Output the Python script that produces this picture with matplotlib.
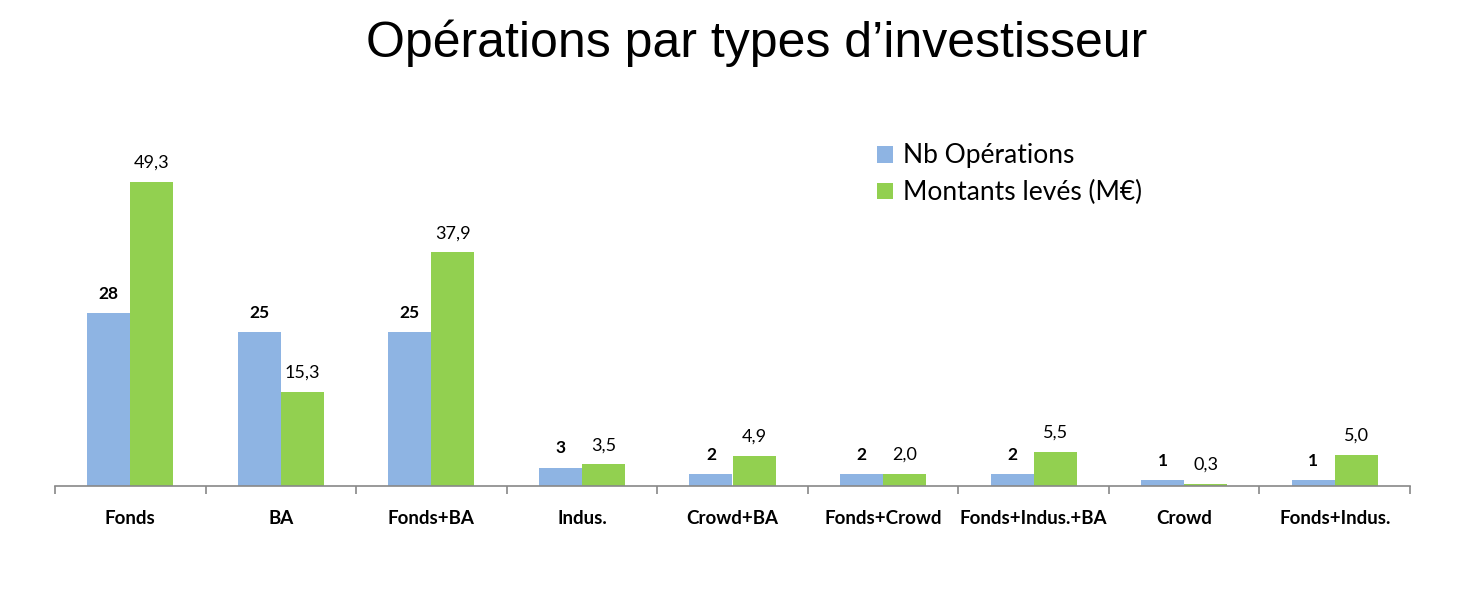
import matplotlib.pyplot as plt
import numpy as np

categories = ['Fonds', 'BA', 'Fonds+BA', 'Indus.', 'Crowd+BA', 'Fonds+Crowd',
              'Fonds+Indus.+BA', 'Crowd', 'Fonds+Indus.']
nb_operations = [28, 25, 25, 3, 2, 2, 2, 1, 1]
montants = [49.3, 15.3, 37.9, 3.5, 4.9, 2.0, 5.5, 0.3, 5.0]

bleu = '#8EB4E3'
vert = '#92D050'
police = 'Lato'

fig = plt.figure(figsize=(14.58, 5.99), dpi=100)
ax = fig.add_axes([55 / 1458, (599 - 486) / 599, 1355 / 1458, 370 / 599])

x = np.arange(len(categories))
w = 0.286
b1 = ax.bar(x - w / 2, nb_operations, w, color=bleu, label='Nb Opérations')
b2 = ax.bar(x + w / 2, montants, w, color=vert, label='Montants levés (M€)')

# étiquettes de valeurs au-dessus des barres
for rect, v in zip(b1, nb_operations):
    ax.annotate(str(v), (rect.get_x() + rect.get_width() / 2, v), xytext=(0, 8),
                textcoords='offset points', ha='center', va='bottom',
                fontsize=12.5, fontweight='bold', family=police)
for rect, v in zip(b2, montants):
    ax.annotate(f'{v:.1f}'.replace('.', ','), (rect.get_x() + rect.get_width() / 2, v),
                xytext=(0, 8), textcoords='offset points', ha='center', va='bottom',
                fontsize=13, family=police)

ax.set_xlim(-0.5, len(categories) - 0.5)
ax.set_ylim(0, 60)
ax.set_yticks([])
for s in ['top', 'right', 'left']:
    ax.spines[s].set_visible(False)
ax.spines['bottom'].set_color('#888888')
ax.spines['bottom'].set_linewidth(1.2)

ax.set_xticks(np.arange(len(categories) + 1) - 0.5, minor=False)
ax.set_xticklabels([])
ax.tick_params(axis='x', which='major', direction='out', length=6, color='#888888', width=1.2)
ax.set_xticks(x, minor=True)
ax.set_xticklabels(categories, minor=True, fontsize=13.5, fontweight='bold', family=police)
ax.tick_params(axis='x', which='minor', length=0, pad=17)

leg = ax.legend(loc='upper left', bbox_to_anchor=(0.589, 0.99), frameon=False,
                prop={'family': police, 'size': 19}, handlelength=0.6, handleheight=0.6,
                handletextpad=0.4, labelspacing=0.45)

fig.text(0.519, 0.928, 'Opérations par types d’investisseur', ha='center', va='center',
         fontsize=36, family='Liberation Sans')

fig.savefig('out.png', dpi=100)
